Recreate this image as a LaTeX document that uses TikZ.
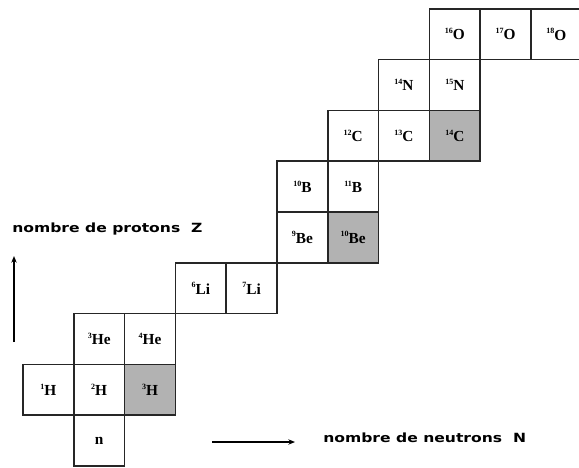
\documentclass[tikz,border=0pt]{standalone}
\usepackage{fontspec}
\setmainfont{Liberation Serif}
\newfontfamily\axisfont[FakeStretch=1.23]{DejaVu Sans}
\usetikzlibrary{arrows.meta}
\newcommand\isot[2]{\raisebox{0.42em}{\fontsize{6}{6}\selectfont #1}#2}
\begin{document}
\begin{tikzpicture}[x=0.75pt,y=-0.75pt,
  cell/.style={draw=black!85, line width=1.3pt, minimum width=38.1pt, minimum height=38.1pt,
    inner sep=0pt, font=\bfseries\fontsize{11.5}{11.5}\selectfont},
  hot/.style={cell, fill=black!30},
  axislabel/.style={font=\axisfont\bfseries\fontsize{9.5}{9.5}\selectfont, inner sep=0pt},
  axisarrow/.style={line width=0.9pt, -{Stealth[length=5pt,width=4pt]}}]
\useasboundingbox (0,0) rectangle (579,468);
\clip (0,0) rectangle (579,468);
% Z = 0
\node[cell] (n) at (99.2,440.6) {n};
% Z = 1
\node[cell] (h1) at (48.4,389.8) {\isot{1}{H}};
\node[cell] (h2) at (99.2,389.8) {\isot{2}{H}};
\node[hot]  (h3) at (150,389.8) {\isot{3}{H}};
% Z = 2
\node[cell] (he3) at (99.2,339) {\isot{3}{He}};
\node[cell] (he4) at (150,339) {\isot{4}{He}};
% Z = 3
\node[cell] (li6) at (200.8,288.2) {\isot{6}{Li}};
\node[cell] (li7) at (251.6,288.2) {\isot{7}{Li}};
% Z = 4
\node[cell] (be9) at (302.4,237.4) {\isot{9}{Be}};
\node[hot]  (be10) at (353.2,237.4) {\isot{10}{Be}};
% Z = 5
\node[cell] (b10) at (302.4,186.6) {\isot{10}{B}};
\node[cell] (b11) at (353.2,186.6) {\isot{11}{B}};
% Z = 6
\node[cell] (c12) at (353.2,135.8) {\isot{12}{C}};
\node[cell] (c13) at (404,135.8) {\isot{13}{C}};
\node[hot]  (c14) at (454.8,135.8) {\isot{14}{C}};
% Z = 7
\node[cell] (n14) at (404,85) {\isot{14}{N}};
\node[cell] (n15) at (454.8,85) {\isot{15}{N}};
% Z = 8
\node[cell] (o16) at (454.8,34.2) {\isot{16}{O}};
\node[cell] (o17) at (505.6,34.2) {\isot{17}{O}};
\node[cell] (o18) at (556.4,34.2) {\isot{18}{O}};
% axes
\coordinate (zs) at (14,342);
\coordinate (ze) at (14,256);
\coordinate (ns) at (212,442);
\coordinate (ne) at (295,442);
\draw[axisarrow] (zs) -- (ze);
\draw[axisarrow] (ns) -- (ne);
\node[axislabel, anchor=west] (zlabel) at (12,229) {nombre de protons\ \ Z};
\node[axislabel, anchor=west] (nlabel) at (323,438) {nombre de neutrons\ \ N};
\end{tikzpicture}
\end{document}
